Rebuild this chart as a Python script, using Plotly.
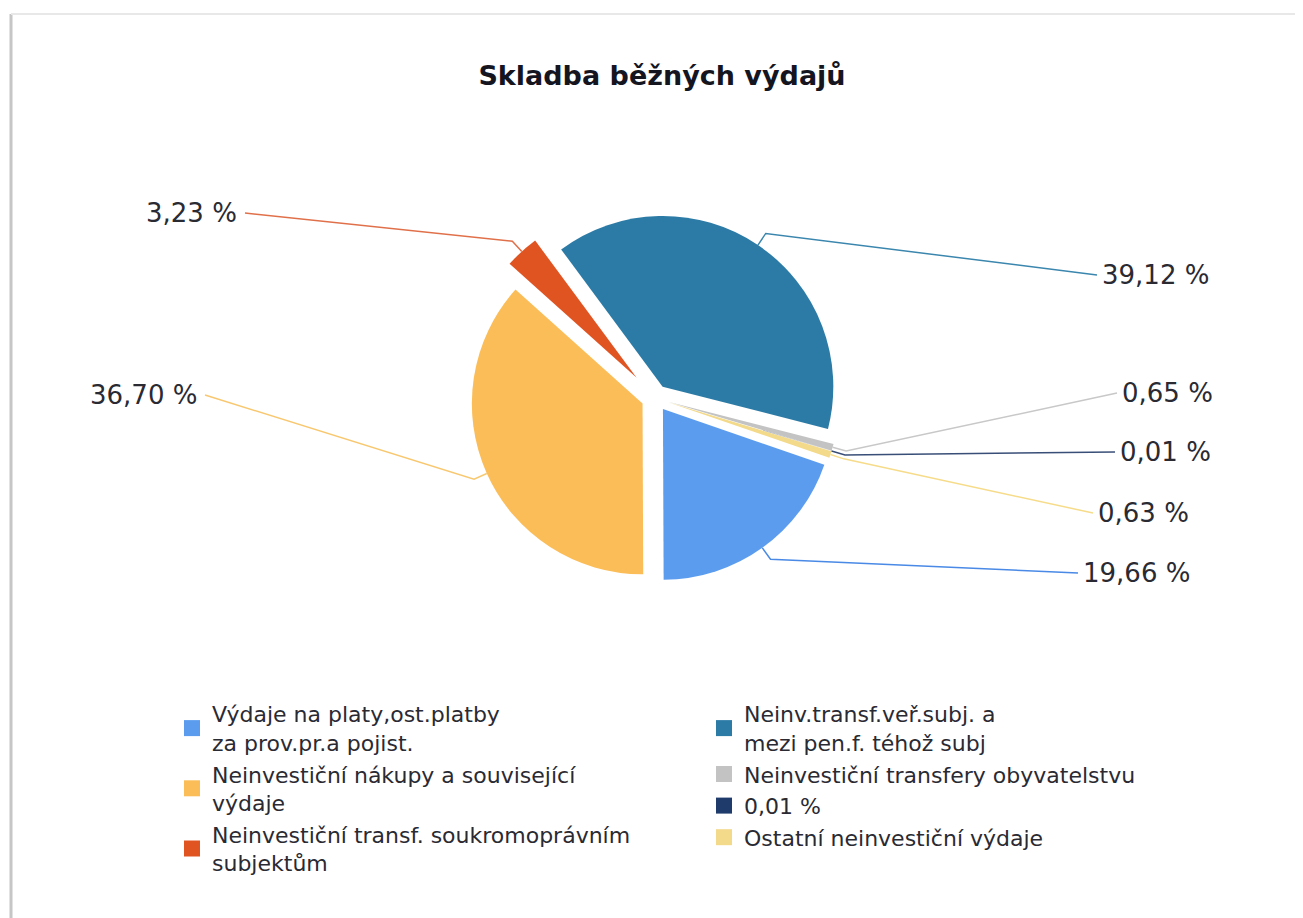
import math
import plotly.graph_objects as go

W, H = 1303, 918
OFF = 8  # page body margin

# ---- data ----
categories = [
    "Výdaje na platy,ost.platby<br>za prov.pr.a pojist.",
    "Neinvestiční nákupy a související<br>výdaje",
    "Neinvestiční transf. soukromoprávním<br>subjektům",
    "Neinv.transf.veř.subj. a<br>mezi pen.f. téhož subj",
    "Neinvestiční transfery obyvatelstvu",
    "0,01 %",
    "Ostatní neinvestiční výdaje",
]
values = [19.66, 36.70, 3.23, 39.12, 0.65, 0.01, 0.63]
legend_column = ["legend", "legend", "legend", "legend2", "legend2", "legend2", "legend2"]

# ---- styles ----
colors = ["#5b9cef", "#fbbd58", "#e05422", "#2b7ba6", "#c3c3c3", "#1f3b6c", "#f3d98a"]
line_colors = ["#4a8ae6", "#f8c870", "#e0704a", "#3a86ae", "#c8c8c8", "#3a4f78", "#f6dc8a"]
pulls = [0.08, 0.08, 0.16, 0.08, 0.08, 0.08, 0.08]
rotation = 109

# pie geometry (pixels)
cx, cy, half = 655, 398, 198
r = half / (1 + max(pulls))

# label anchor points (pixels) where the leader lines end
label_anchor = [(1078, 573), (205, 395), (245, 213), (1097, 275),
                (1117, 393), (1115, 452), (1093, 513)]
label_side = ["right", "left", "left", "right", "right", "right", "right"]

def px(x):
    return (x - OFF) / W

def py(y):
    return 1 - (y - OFF) / H

fig = go.Figure()
fig.add_trace(go.Pie(
    labels=[c.replace("<br>", " ") for c in categories],
    values=values,
    sort=False,
    direction="clockwise",
    rotation=rotation,
    pull=pulls,
    marker=dict(colors=colors, line=dict(width=0)),
    textinfo="none",
    showlegend=False,
    domain=dict(x=[px(cx - half), px(cx + half)], y=[py(cy + half), py(cy - half)]),
))

# legend entries
for name, col, lg in zip(categories, colors, legend_column):
    fig.add_trace(go.Scatter(
        x=[None], y=[None], mode="markers", name=name,
        marker=dict(symbol="square", size=16, color=col),
        legend=lg, showlegend=True, hoverinfo="skip",
    ))

# leader lines + labels
total = sum(values)
cum = 0.0
shapes = []
annotations = []
lab_font = dict(family="DejaVu Sans", size=26, color="#2a2a33")
for i, v in enumerate(values):
    ang = v / total * 360
    mid = math.radians(rotation + cum + ang / 2)
    cum += ang
    rr = r * (1 + pulls[i])
    ex, ey = cx + rr * math.sin(mid), cy - rr * math.cos(mid)
    ex2, ey2 = cx + (rr + 14) * math.sin(mid), cy - (rr + 14) * math.cos(mid)
    ax, ay = label_anchor[i]
    path = f"M {px(ex)} {py(ey)} L {px(ex2)} {py(ey2)} L {px(ax)} {py(ay)}"
    shapes.append(dict(type="path", path=path, xref="paper", yref="paper",
                       line=dict(color=line_colors[i], width=1.5)))
    txt = f"{v:.2f}".replace(".", ",") + " %"
    if label_side[i] == "right":
        annotations.append(dict(x=px(ax + 3), y=py(ay), xref="paper", yref="paper",
                                text=txt, showarrow=False, xanchor="left", yanchor="middle",
                                font=lab_font))
    else:
        annotations.append(dict(x=px(ax - 6), y=py(ay), xref="paper", yref="paper",
                                text=txt, showarrow=False, xanchor="right", yanchor="middle",
                                font=lab_font))

# frame
shapes.append(dict(type="line", xref="paper", yref="paper", x0=px(11), x1=px(11), y0=py(14), y1=-0.05,
                   line=dict(color="#c6c6c6", width=3)))
shapes.append(dict(type="line", xref="paper", yref="paper", x0=px(11), x1=1.05, y0=py(14), y1=py(14),
                   line=dict(color="#e8e8e8", width=2)))

leg_font = dict(family="DejaVu Sans", size=22, color="#2a2a33")
fig.update_layout(
    width=W, height=H,
    margin=dict(l=0, r=0, t=0, b=0),
    paper_bgcolor="white", plot_bgcolor="white",
    xaxis=dict(visible=False), yaxis=dict(visible=False),
    title=dict(text="<b>Skladba běžných výdajů</b>", x=px(662), xanchor="center",
               y=py(76), yanchor="middle", yref="container",
               font=dict(family="DejaVu Sans", size=27, color="#15151f")),
    legend=dict(x=px(172), y=py(693), xanchor="left", yanchor="top",
                font=leg_font, bgcolor="rgba(0,0,0,0)", tracegroupgap=0),
    legend2=dict(x=px(704), y=py(693), xanchor="left", yanchor="top",
                 font=leg_font, bgcolor="rgba(0,0,0,0)", tracegroupgap=0),
    shapes=shapes,
    annotations=annotations,
)

fig.write_html("out.html")
